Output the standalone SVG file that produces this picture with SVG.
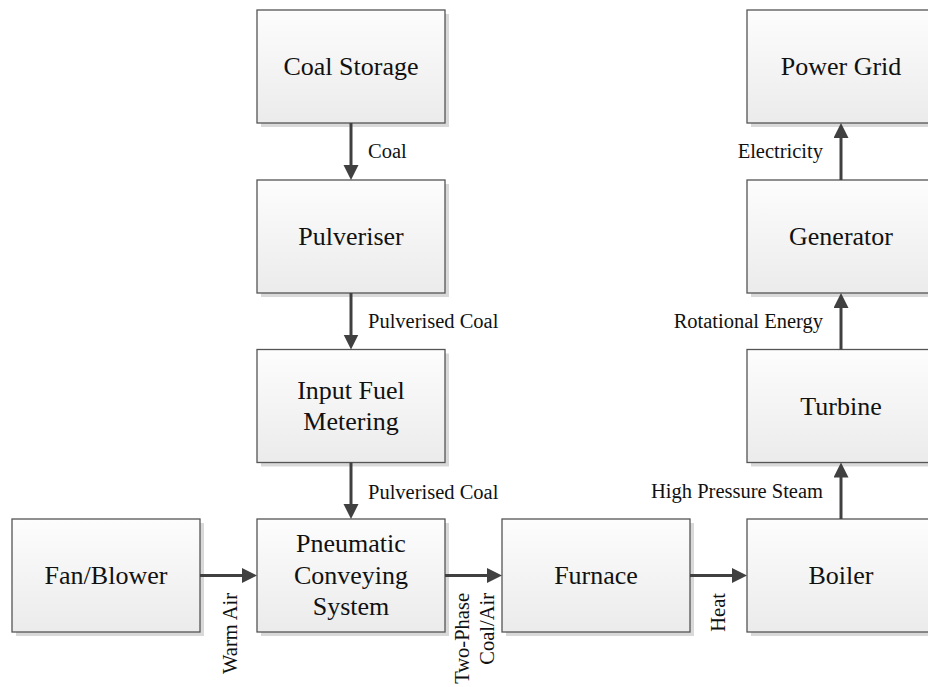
<svg xmlns="http://www.w3.org/2000/svg" width="928" height="687" viewBox="0 0 928 687">
<defs>
<linearGradient id="g" x1="0" y1="0" x2="0" y2="1">
<stop offset="0" stop-color="#fdfdfd"/>
<stop offset="1" stop-color="#ebebeb"/>
</linearGradient>
<marker id="ah" markerUnits="userSpaceOnUse" markerWidth="16" markerHeight="16" refX="3" refY="7.5" orient="auto">
<path d="M0,0 L15,7.5 L0,15 z" fill="#404040"/>
</marker>
</defs>
<style>
.sh{fill:#d9d9d9}
.bx{fill:url(#g);stroke:#555;stroke-width:1.3}
.nt{font-family:"Liberation Serif","Times New Roman",serif;font-size:26px;fill:#111;text-anchor:middle}
.el{font-family:"Liberation Serif","Times New Roman",serif;font-size:20.5px;fill:#111}
.ln{stroke:#404040;stroke-width:3;fill:none;marker-end:url(#ah)}
</style>
<rect width="928" height="687" fill="#fff"/>

<g id="coal-storage"><rect class="sh" x="261" y="14" width="188" height="113"/><rect class="bx" x="257" y="10" width="188" height="113"/><text class="nt" x="351" y="75">Coal Storage</text></g>
<g id="pulveriser"><rect class="sh" x="261" y="184" width="188" height="113"/><rect class="bx" x="257" y="180" width="188" height="113"/><text class="nt" x="351" y="245">Pulveriser</text></g>
<g id="input-fuel-metering"><rect class="sh" x="261" y="353.5" width="188" height="113"/><rect class="bx" x="257" y="349.5" width="188" height="113"/><text class="nt" x="351" y="399">Input Fuel</text><text class="nt" x="351" y="430">Metering</text></g>
<g id="pneumatic"><rect class="sh" x="261" y="523" width="188" height="113"/><rect class="bx" x="257" y="519" width="188" height="113"/><text class="nt" x="351" y="552">Pneumatic</text><text class="nt" x="351" y="583.5">Conveying</text><text class="nt" x="351" y="615">System</text></g>
<g id="fan-blower"><rect class="sh" x="16" y="523" width="188" height="113"/><rect class="bx" x="12" y="519" width="188" height="113"/><text class="nt" x="106" y="584">Fan/Blower</text></g>
<g id="furnace"><rect class="sh" x="506" y="523" width="188" height="113"/><rect class="bx" x="502" y="519" width="188" height="113"/><text class="nt" x="596" y="584">Furnace</text></g>
<g id="boiler"><rect class="sh" x="751" y="523" width="188" height="113"/><rect class="bx" x="747" y="519" width="188" height="113"/><text class="nt" x="841" y="584">Boiler</text></g>
<g id="turbine"><rect class="sh" x="751" y="353.5" width="188" height="113"/><rect class="bx" x="747" y="349.5" width="188" height="113"/><text class="nt" x="841" y="415">Turbine</text></g>
<g id="generator"><rect class="sh" x="751" y="184" width="188" height="113"/><rect class="bx" x="747" y="180" width="188" height="113"/><text class="nt" x="841" y="245">Generator</text></g>
<g id="power-grid"><rect class="sh" x="751" y="14" width="188" height="113"/><rect class="bx" x="747" y="10" width="188" height="113"/><text class="nt" x="841" y="75">Power Grid</text></g>

<g id="connectors">
<line class="ln" x1="351" y1="123" x2="351" y2="168"/>
<line class="ln" x1="351" y1="293" x2="351" y2="337.5"/>
<line class="ln" x1="351" y1="462.5" x2="351" y2="507"/>
<line class="ln" x1="200" y1="575.5" x2="245" y2="575.5"/>
<line class="ln" x1="445" y1="575.5" x2="490" y2="575.5"/>
<line class="ln" x1="690" y1="575.5" x2="735" y2="575.5"/>
<line class="ln" x1="841" y1="519" x2="841" y2="474.5"/>
<line class="ln" x1="841" y1="349.5" x2="841" y2="305"/>
<line class="ln" x1="841" y1="180" x2="841" y2="135"/>
<text class="el" x="368" y="158">Coal</text>
<text class="el" x="368" y="328">Pulverised Coal</text>
<text class="el" x="368" y="499">Pulverised Coal</text>
<text class="el" x="823" y="158" text-anchor="end">Electricity</text>
<text class="el" x="823" y="328" text-anchor="end">Rotational Energy</text>
<text class="el" x="823" y="498" text-anchor="end">High Pressure Steam</text>
<text class="el" text-anchor="end" transform="translate(237,593) rotate(-90)">Warm Air</text>
<text class="el" text-anchor="end" transform="translate(469,593) rotate(-90)">Two-Phase</text>
<text class="el" text-anchor="end" transform="translate(494,593) rotate(-90)">Coal/Air</text>
<text class="el" text-anchor="end" transform="translate(725,593) rotate(-90)">Heat</text>
</g>
</svg>
